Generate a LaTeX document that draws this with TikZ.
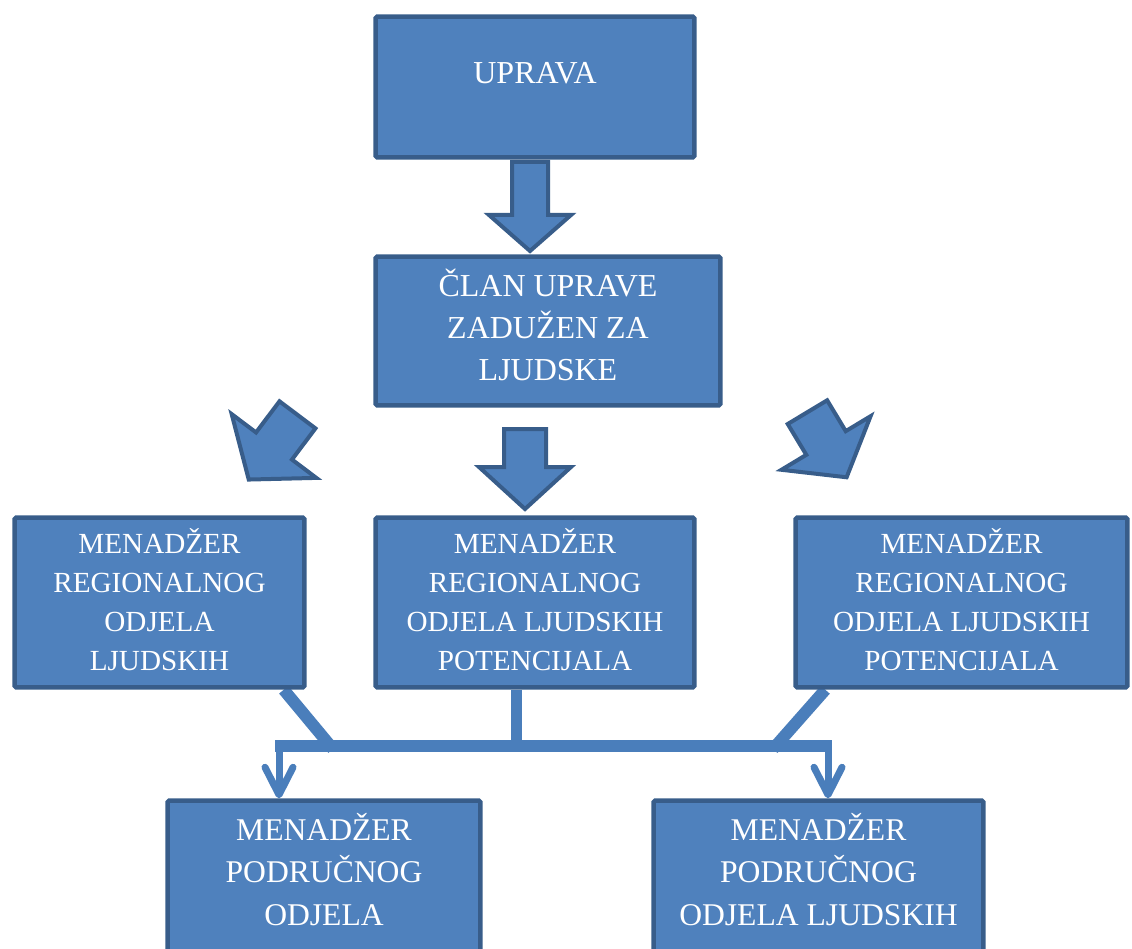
\documentclass[tikz,border=0pt]{standalone}
\usepackage{fontspec}
\setmainfont{Liberation Serif}
\usetikzlibrary{arrows.meta,calc,backgrounds}

\definecolor{boxfill}{HTML}{4F81BD}
\definecolor{boxline}{HTML}{385D8A}
\definecolor{connline}{HTML}{4A7EBB}

\tikzset{
  orgbox/.style={draw=boxline, fill=boxfill, line width=0.09cm, rounded corners=1pt,
    text=white, align=center, inner sep=0pt},
  topfont/.style={font=\fontsize{18.2}{23.9}\selectfont},
  midfont/.style={font=\fontsize{16.6}{22.2}\selectfont},
  lowfont/.style={font=\fontsize{18}{24.2}\selectfont},
  blockarrow/.style={draw=boxline, fill=boxfill, line width=0.08cm, line join=miter},
  conn/.style={draw=connline, line width=0.24cm},
  conndrop/.style={draw=connline, line width=0.14cm,
    -{Straight Barb[length=0.55cm,width=0.56cm,round]}},
}

\begin{document}
\begin{tikzpicture}[x=0.02cm, y=-0.02cm]
\useasboundingbox (0,0) rectangle (1132,949);

% boxes
\node[orgbox, topfont, minimum width=6.38cm, minimum height=2.82cm,
      text height=0.42cm, text depth=0.56cm] (uprava) at (535,87) {UPRAVA};
\node[orgbox, topfont, minimum width=6.9cm, minimum height=2.98cm,
      text height=1.99cm, text depth=0cm] (clan) at (548,331)
      {ČLAN UPRAVE\\ZADUŽEN ZA\\LJUDSKE};
%
\node[orgbox, midfont, minimum width=5.8cm, minimum height=3.4cm,
      text height=2.72cm, text depth=0cm] (regl) at (159.5,602.5)
      {MENADŽER\\REGIONALNOG\\ODJELA\\LJUDSKIH};
\node[orgbox, midfont, minimum width=6.38cm, minimum height=3.4cm,
      text height=2.72cm, text depth=0cm] (regc) at (535,602.5)
      {MENADŽER\\REGIONALNOG\\ODJELA LJUDSKIH\\POTENCIJALA};
\node[orgbox, midfont, minimum width=6.64cm, minimum height=3.4cm,
      text height=2.72cm, text depth=0cm] (regr) at (961.5,602.5)
      {MENADŽER\\REGIONALNOG\\ODJELA LJUDSKIH\\POTENCIJALA};
%
\node[orgbox, lowfont, minimum width=6.26cm, minimum height=3.24cm,
      text height=1.76cm, text depth=0cm] (podl) at (324,881.5)
      {MENADŽER\\PODRUČNOG\\ODJELA};
\node[orgbox, lowfont, minimum width=6.6cm, minimum height=3.24cm,
      text height=1.76cm, text depth=0cm] (podr) at (818.5,881.5)
      {MENADŽER\\PODRUČNOG\\ODJELA LJUDSKIH};

% block arrows
\draw[blockarrow, shift={(530,215)}]
  (-18,-53) -- (18,-53) -- (18,0) -- (41,0) -- (0,36) -- (-41,0) -- (-18,0) -- cycle;
\draw[blockarrow, shift={(525,467)}]
  (-21,-38) -- (21,-38) -- (21,0) -- (46,0) -- (0,42) -- (-46,0) -- (-21,0) -- cycle;
\draw[blockarrow, shift={(274,446)}, rotate=-37]
  (-22.5,-39) -- (22.5,-39) -- (22.5,0) -- (53,0) -- (0,42) -- (-53,0) -- (-22.5,0) -- cycle;
\draw[blockarrow, shift={(826,443)}, rotate=31]
  (-23,-36) -- (23,-36) -- (23,0) -- (52,0) -- (0,40) -- (-52,0) -- (-23,0) -- cycle;

% connectors
\coordinate (barl) at (275,746);
\coordinate (barr) at (832,746);
\coordinate (dropl) at (279,746);
\coordinate (dropr) at (828,746);
\begin{scope}[on background layer]
  \draw[conn] ($(regl.south east)+(-23,0)$) -- (333,749);
  \draw[conn] ($(regr.south west)+(32,0)$) -- (773,749);
  \draw[conn, line width=0.22cm] ($(regc.south)+(-19,0)$) -- (516,746);
  \draw[conn] (barl) -- (barr);
  \draw[conndrop] (dropl) -- (dropl |- podl.north);
  \draw[conndrop] (dropr) -- (dropr |- podr.north);
\end{scope}
\end{tikzpicture}
\end{document}
